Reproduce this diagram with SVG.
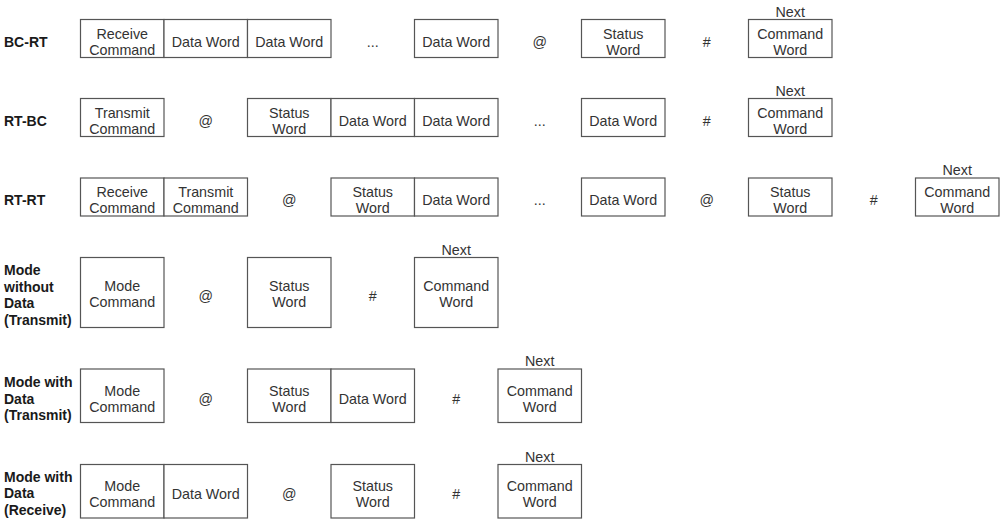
<svg xmlns="http://www.w3.org/2000/svg" width="1008" height="520" viewBox="0 0 1008 520">
<style>
.bg{fill:#fff}
.box{fill:#fff;stroke:#555;stroke-width:1.2}
.t{font-family:"Liberation Sans",Arial,sans-serif;font-size:14.3px;fill:#333;text-anchor:middle}
.lbl{font-family:"Liberation Sans",Arial,sans-serif;font-size:14px;font-weight:bold;fill:#1a1a1a}
</style>
<rect class="bg" x="0" y="0" width="1008" height="520"/>
<g id="connectors"/>
<!-- Row 1 BC-RT -->
<g id="row-bc-rt">
<text class="lbl" x="4" y="46.5">BC-RT</text>
<g id="r1-receive"><rect class="box" x="80.5" y="19.5" width="83.5" height="38"/><text class="t" x="122.25" y="38.5">Receive</text><text class="t" x="122.25" y="54.5">Command</text></g>
<g id="r1-data1"><rect class="box" x="164" y="19.5" width="83.5" height="38"/><text class="t" x="205.75" y="46.5">Data Word</text></g>
<g id="r1-data2"><rect class="box" x="247.5" y="19.5" width="83.5" height="38"/><text class="t" x="289.25" y="46.5">Data Word</text></g>
<text class="t" x="372.75" y="46.5">...</text>
<g id="r1-data3"><rect class="box" x="414.5" y="19.5" width="83.5" height="38"/><text class="t" x="456.25" y="46.5">Data Word</text></g>
<text class="t" x="539.75" y="46.5">@</text>
<g id="r1-status"><rect class="box" x="581.5" y="19.5" width="83.5" height="38"/><text class="t" x="623.25" y="38.5">Status</text><text class="t" x="623.25" y="54.5">Word</text></g>
<text class="t" x="706.75" y="46.5">#</text>
<g id="r1-next"><text class="t" x="790.25" y="16.5">Next</text><rect class="box" x="748.5" y="19.5" width="83.5" height="38"/><text class="t" x="790.25" y="38.5">Command</text><text class="t" x="790.25" y="54.5">Word</text></g>
</g>
<!-- Row 2 RT-BC -->
<g id="row-rt-bc">
<text class="lbl" x="4" y="125.5">RT-BC</text>
<g id="r2-transmit"><rect class="box" x="80.5" y="98.5" width="83.5" height="38"/><text class="t" x="122.25" y="117.5">Transmit</text><text class="t" x="122.25" y="133.5">Command</text></g>
<text class="t" x="205.75" y="125.5">@</text>
<g id="r2-status"><rect class="box" x="247.5" y="98.5" width="83.5" height="38"/><text class="t" x="289.25" y="117.5">Status</text><text class="t" x="289.25" y="133.5">Word</text></g>
<g id="r2-data1"><rect class="box" x="331" y="98.5" width="83.5" height="38"/><text class="t" x="372.75" y="125.5">Data Word</text></g>
<g id="r2-data2"><rect class="box" x="414.5" y="98.5" width="83.5" height="38"/><text class="t" x="456.25" y="125.5">Data Word</text></g>
<text class="t" x="539.75" y="125.5">...</text>
<g id="r2-data3"><rect class="box" x="581.5" y="98.5" width="83.5" height="38"/><text class="t" x="623.25" y="125.5">Data Word</text></g>
<text class="t" x="706.75" y="125.5">#</text>
<g id="r2-next"><text class="t" x="790.25" y="95.5">Next</text><rect class="box" x="748.5" y="98.5" width="83.5" height="38"/><text class="t" x="790.25" y="117.5">Command</text><text class="t" x="790.25" y="133.5">Word</text></g>
</g>
<!-- Row 3 RT-RT -->
<g id="row-rt-rt">
<text class="lbl" x="4" y="205">RT-RT</text>
<g id="r3-receive"><rect class="box" x="80.5" y="178" width="83.5" height="38"/><text class="t" x="122.25" y="197">Receive</text><text class="t" x="122.25" y="213">Command</text></g>
<g id="r3-transmit"><rect class="box" x="164" y="178" width="83.5" height="38"/><text class="t" x="205.75" y="197">Transmit</text><text class="t" x="205.75" y="213">Command</text></g>
<text class="t" x="289.25" y="205">@</text>
<g id="r3-status1"><rect class="box" x="331" y="178" width="83.5" height="38"/><text class="t" x="372.75" y="197">Status</text><text class="t" x="372.75" y="213">Word</text></g>
<g id="r3-data1"><rect class="box" x="414.5" y="178" width="83.5" height="38"/><text class="t" x="456.25" y="205">Data Word</text></g>
<text class="t" x="539.75" y="205">...</text>
<g id="r3-data2"><rect class="box" x="581.5" y="178" width="83.5" height="38"/><text class="t" x="623.25" y="205">Data Word</text></g>
<text class="t" x="706.75" y="205">@</text>
<g id="r3-status2"><rect class="box" x="748.5" y="178" width="83.5" height="38"/><text class="t" x="790.25" y="197">Status</text><text class="t" x="790.25" y="213">Word</text></g>
<text class="t" x="873.75" y="205">#</text>
<g id="r3-next"><text class="t" x="957.25" y="175">Next</text><rect class="box" x="915.5" y="178" width="83.5" height="38"/><text class="t" x="957.25" y="197">Command</text><text class="t" x="957.25" y="213">Word</text></g>
</g>
<!-- Row 4 Mode without Data (Transmit) -->
<g id="row-mode-nodata">
<text class="lbl" x="4" y="275">Mode</text>
<text class="lbl" x="4" y="291.7">without</text>
<text class="lbl" x="4" y="308.3">Data</text>
<text class="lbl" x="4" y="325">(Transmit)</text>
<g id="r4-mode"><rect class="box" x="80.5" y="257.5" width="83.5" height="70"/><text class="t" x="122.25" y="291">Mode</text><text class="t" x="122.25" y="307">Command</text></g>
<text class="t" x="205.75" y="300.5">@</text>
<g id="r4-status"><rect class="box" x="247.5" y="257.5" width="83.5" height="70"/><text class="t" x="289.25" y="291">Status</text><text class="t" x="289.25" y="307">Word</text></g>
<text class="t" x="372.75" y="300.5">#</text>
<g id="r4-next"><text class="t" x="456.25" y="254.5">Next</text><rect class="box" x="414.5" y="257.5" width="83.5" height="70"/><text class="t" x="456.25" y="291">Command</text><text class="t" x="456.25" y="307">Word</text></g>
</g>
<!-- Row 5 Mode with Data (Transmit) -->
<g id="row-mode-data-tx">
<text class="lbl" x="4" y="387">Mode with</text>
<text class="lbl" x="4" y="403.7">Data</text>
<text class="lbl" x="4" y="420.4">(Transmit)</text>
<g id="r5-mode"><rect class="box" x="80.5" y="369" width="83.5" height="53.5"/><text class="t" x="122.25" y="395.75">Mode</text><text class="t" x="122.25" y="411.75">Command</text></g>
<text class="t" x="205.75" y="403.75">@</text>
<g id="r5-status"><rect class="box" x="247.5" y="369" width="83.5" height="53.5"/><text class="t" x="289.25" y="395.75">Status</text><text class="t" x="289.25" y="411.75">Word</text></g>
<g id="r5-data"><rect class="box" x="331" y="369" width="83.5" height="53.5"/><text class="t" x="372.75" y="403.75">Data Word</text></g>
<text class="t" x="456.25" y="403.75">#</text>
<g id="r5-next"><text class="t" x="539.75" y="366">Next</text><rect class="box" x="498" y="369" width="83.5" height="53.5"/><text class="t" x="539.75" y="395.75">Command</text><text class="t" x="539.75" y="411.75">Word</text></g>
</g>
<!-- Row 6 Mode with Data (Receive) -->
<g id="row-mode-data-rx">
<text class="lbl" x="4" y="481.7">Mode with</text>
<text class="lbl" x="4" y="498.3">Data</text>
<text class="lbl" x="4" y="515">(Receive)</text>
<g id="r6-mode"><rect class="box" x="80.5" y="464.5" width="83.5" height="53.5"/><text class="t" x="122.25" y="491.25">Mode</text><text class="t" x="122.25" y="507.25">Command</text></g>
<g id="r6-data"><rect class="box" x="164" y="464.5" width="83.5" height="53.5"/><text class="t" x="205.75" y="499.25">Data Word</text></g>
<text class="t" x="289.25" y="499.25">@</text>
<g id="r6-status"><rect class="box" x="331" y="464.5" width="83.5" height="53.5"/><text class="t" x="372.75" y="491.25">Status</text><text class="t" x="372.75" y="507.25">Word</text></g>
<text class="t" x="456.25" y="499.25">#</text>
<g id="r6-next"><text class="t" x="539.75" y="461.5">Next</text><rect class="box" x="498" y="464.5" width="83.5" height="53.5"/><text class="t" x="539.75" y="491.25">Command</text><text class="t" x="539.75" y="507.25">Word</text></g>
</g>
</svg>
